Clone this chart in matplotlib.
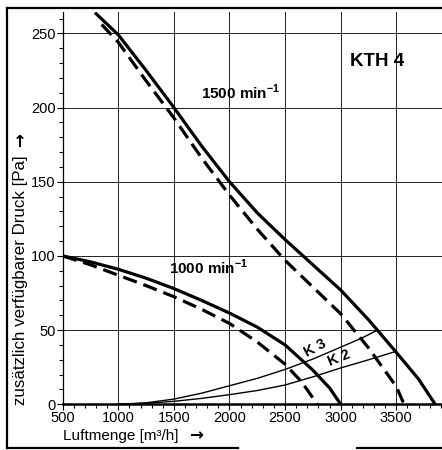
import matplotlib
matplotlib.use("Agg")
import matplotlib.pyplot as plt
from matplotlib.lines import Line2D
from matplotlib.ticker import MultipleLocator

plt.rcParams["font.family"] = ["Liberation Sans", "DejaVu Sans"]
plt.rcParams["mathtext.fontset"] = "custom"
plt.rcParams["mathtext.rm"] = "Liberation Sans"
plt.rcParams["mathtext.bf"] = "Liberation Sans:bold"

# 1500 min-1, solid and dashed
q1500 = [790, 1000, 1250, 1500, 1750, 2000, 2250, 2500, 2750, 3000, 3250, 3500, 3700, 3850]
p1500 = [264, 249, 225, 200, 174, 150, 129, 111, 94, 77, 57, 35, 17, 0]
q1500d = [850, 1000, 1250, 1500, 1750, 2000, 2250, 2500, 2750, 3000, 3250, 3500, 3570]
p1500d = [256, 244, 218, 193, 166, 141, 118, 97, 79, 61, 38, 12, 0]

# 1000 min-1, solid and dashed
q1000 = [500, 750, 1000, 1250, 1500, 1750, 2000, 2250, 2500, 2750, 2900, 3000]
p1000 = [100, 96, 91, 85, 78, 70, 61.5, 52, 40, 23, 11, 0]
q1000d = [500, 750, 1000, 1250, 1500, 1750, 2000, 2250, 2500, 2650, 2790]
p1000d = [100, 94, 87, 80, 72.5, 64, 54.5, 42, 27, 15, 0]

# system curves
qk3 = [1000, 1250, 1500, 1750, 2000, 2250, 2500, 2750, 3000, 3200, 3330]
pk3 = [0, 1, 3.5, 7.5, 12.5, 17.5, 23.5, 30.5, 38.5, 45, 50]
qk2 = [1000, 1250, 1500, 1750, 2000, 2250, 2500, 2750, 3000, 3250, 3490]
pk2 = [0, 0.7, 2, 4, 6.5, 9.3, 13, 18.5, 24.5, 30, 35.5]

xticks = [500, 1000, 1500, 2000, 2500, 3000, 3500]
yticks = [0, 50, 100, 150, 200, 250]

W, H = 442, 450
fig = plt.figure(figsize=(W / 100, H / 100), dpi=100)
ax = fig.add_axes([62.7 / W, 1 - 404.3 / H, 1 - 62.7 / W, (404.3 - 12) / H])

ax.set_xlim(500, 3911)
ax.set_ylim(0, 264.4)
ax.set_xticks(xticks)
ax.set_yticks(yticks)
ax.xaxis.set_minor_locator(MultipleLocator(100))
ax.yaxis.set_minor_locator(MultipleLocator(10))
ax.grid(True, which="major", color="#222222", linewidth=0.7)
ax.tick_params(which="both", direction="out", labelsize=10.5, width=0.8)
ax.tick_params(which="major", length=4, pad=1)
ax.tick_params(which="minor", length=3)
for s in ["top", "right"]:
    ax.spines[s].set_visible(False)
ax.spines["bottom"].set_linewidth(1.8)
ax.spines["left"].set_linewidth(0.9)

thick = dict(color="black", linewidth=2.3, solid_capstyle="butt")
ax.plot(q1500, p1500, **thick)
ax.plot(q1500d, p1500d, dashes=(4.5, 2.2), **thick)
ax.plot(q1000, p1000, **thick)
ax.plot(q1000d, p1000d, dashes=(4.5, 2.2), **thick)
ax.plot(qk3, pk3, color="black", linewidth=1.0)
ax.plot(qk2, pk2, color="black", linewidth=1.0)

ax.text(3330, 231, "KTH 4", fontsize=13.5, fontweight="bold", ha="center", va="center")
ax.text(2096, 210, r"1500 min$^{\mathbf{-1}}$", fontsize=11, fontweight="bold",
        ha="center", va="center")
ax.text(1808, 92, r"1000 min$^{\mathbf{-1}}$", fontsize=11, fontweight="bold",
        ha="center", va="center")
ax.text(2775, 38, "K 3", fontsize=10.5, fontweight="bold", rotation=28,
        ha="center", va="center")
ax.text(2985, 31, "K 2", fontsize=10.5, fontweight="bold", rotation=22,
        ha="center", va="center")

fig.text(63 / W, 1 - 436 / H, "Luftmenge [m³/h]", fontsize=11, ha="left", va="center")
fig.text(196 / W, 1 - 435 / H, "→", fontsize=12, fontweight="bold",
         family="DejaVu Sans", ha="center", va="center")
fig.text(21 / W, 1 - 405 / H, "zusätzlich verfügbarer Druck [Pa]", fontsize=12.2,
         rotation=90, ha="center", va="bottom")
fig.text(20 / W, 1 - 133 / H, "→", fontsize=12, fontweight="bold", rotation=90,
         family="DejaVu Sans", ha="center", va="top")

# frame around the picture
frame = [([7, 7], [8, 448]), ([7, 442], [8, 8]), ([7, 238], [448, 448]), ([357, 442], [448, 448])]
for xs, ys in frame:
    fig.add_artist(Line2D([x / W for x in xs], [1 - y / H for y in ys],
                          transform=fig.transFigure, color="black", linewidth=1.6))

fig.savefig("out.png", dpi=100)
